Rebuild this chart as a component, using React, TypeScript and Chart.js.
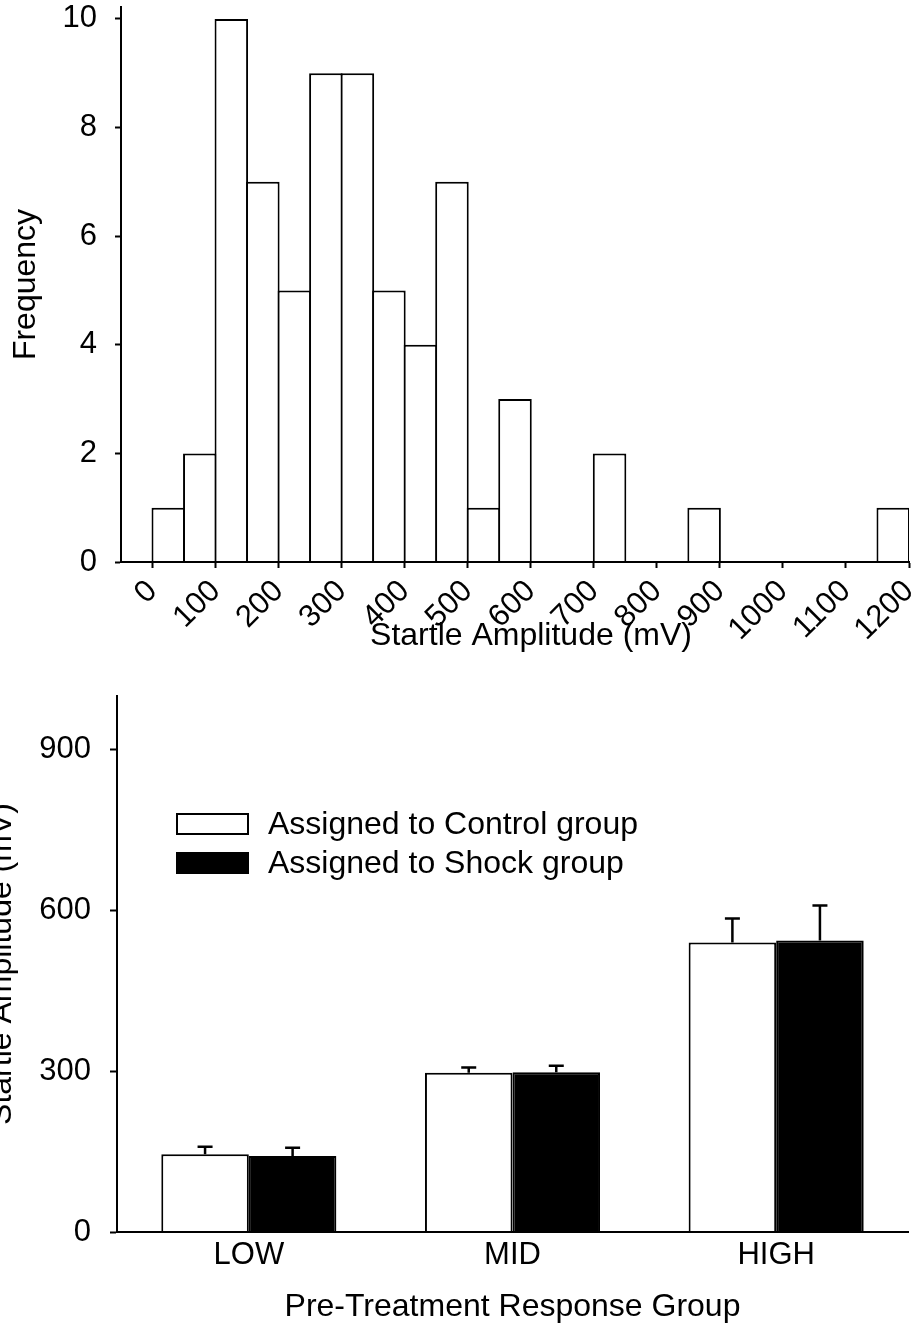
import React, { useEffect, useRef } from 'react';
import { Chart, registerables } from 'chart.js';

Chart.register(...registerables);

const FONT = "'Liberation Sans', Arial, Helvetica, sans-serif";

// ---- Histogram (top) ----
const binStarts = [0, 50, 100, 150, 200, 250, 300, 350, 400, 450, 500, 550, 600, 650, 700, 750, 800, 850, 900, 950, 1000, 1050, 1100, 1150];
const binCounts = [1, 2, 10, 7, 5, 9, 9, 5, 4, 7, 1, 3, 0, 0, 2, 0, 0, 1, 0, 0, 0, 0, 0, 1];
const binWidth = 50;
const histXTicks = [0, 100, 200, 300, 400, 500, 600, 700, 800, 900, 1000, 1100, 1200];
const histYTicks = [0, 2, 4, 6, 8, 10];
const histXTitle = 'Startle Amplitude (mV)';
const histYTitle = 'Frequency';

// ---- Grouped bars (bottom) ----
const groupLabels = ['LOW', 'MID', 'HIGH'];
const controlMeans = [145, 297, 540];
const controlErrors = [14, 10, 45];
const shockMeans = [142, 298, 544];
const shockErrors = [15, 12, 65];
const barYTicks = [0, 300, 600, 900];
const seriesNames = ['Assigned to Control group', 'Assigned to Shock group'];
const barXTitle = 'Pre-Treatment Response Group';
const barYTitle = 'Startle Amplitude (mV)';

const errorBarPlugin = {
  id: 'errorBars',
  afterDatasetsDraw(chart: any, _args: any, opts: any) {
    const { ctx } = chart;
    const yScale = chart.scales.y;
    ctx.save();
    ctx.strokeStyle = '#000';
    ctx.lineWidth = opts.lineWidth;
    chart.data.datasets.forEach((ds: any, i: number) => {
      const meta = chart.getDatasetMeta(i);
      const errs = opts.errors[i];
      meta.data.forEach((bar: any, j: number) => {
        const v = ds.data[j];
        const top = yScale.getPixelForValue(v + errs[j]);
        const x = bar.x;
        ctx.beginPath();
        ctx.moveTo(x, bar.y);
        ctx.lineTo(x, top);
        ctx.moveTo(x - opts.capHalf, top);
        ctx.lineTo(x + opts.capHalf, top);
        ctx.stroke();
      });
    });
    ctx.restore();
  },
};

const insetLegendPlugin = {
  id: 'insetLegend',
  afterDraw(chart: any, _args: any, opts: any) {
    const { ctx, chartArea } = chart;
    ctx.save();
    ctx.font = `${opts.fontSize}px ${FONT}`;
    ctx.textBaseline = 'middle';
    ctx.textAlign = 'left';
    chart.data.datasets.forEach((ds: any, i: number) => {
      const x = chartArea.left + opts.dx;
      const y = chartArea.top + opts.dy + i * opts.rowGap;
      ctx.fillStyle = ds.backgroundColor;
      ctx.fillRect(x, y, opts.boxW, opts.boxH);
      ctx.lineWidth = 2;
      ctx.strokeStyle = ds.borderColor;
      ctx.strokeRect(x + 1, y + 1, opts.boxW - 2, opts.boxH - 2);
      ctx.fillStyle = '#000';
      ctx.fillText(ds.label, x + opts.boxW + opts.gap, y + opts.boxH / 2 + 1);
    });
    ctx.restore();
  },
};

const axisCommon = (tickLength: number) => ({
  grid: {
    display: true,
    offset: false,
    drawOnChartArea: false,
    drawTicks: true,
    tickLength,
    tickWidth: 2,
    tickColor: '#000',
  },
  border: { display: true, color: '#000', width: 2, z: 1 },
});

const plainLabel = (v: any) => String(v);
const fixedTicks = (values: number[]) => (s: any) => {
  s.ticks = values.map((value) => ({ value }));
};

export default function App() {
  const topRef = useRef<HTMLCanvasElement>(null);
  const botRef = useRef<HTMLCanvasElement>(null);

  useEffect(() => {
    const tickFont = { family: FONT, size: 31 };
    const titleFont = { family: FONT, size: 32 };

    const hist = new Chart(topRef.current as HTMLCanvasElement, {
      type: 'bar',
      data: {
        datasets: [
          {
            label: 'Frequency',
            data: binStarts.map((s, i) => ({ x: s + binWidth / 2, y: binCounts[i] })),
            backgroundColor: '#fff',
            borderColor: '#000',
            borderWidth: 2,
            borderSkipped: 'bottom',
            barPercentage: 1.0635,
            categoryPercentage: 1,
            inflateAmount: 0,
          } as any,
        ],
      },
      options: {
        animation: false,
        responsive: true,
        maintainAspectRatio: false,
        layout: { padding: { left: 0, top: 7, right: 14, bottom: 0 } },
        plugins: { legend: { display: false }, tooltip: { enabled: false } },
        scales: {
          x: {
            type: 'linear',
            bounds: 'data',
            min: -50,
            max: 1200,
            offset: false,
            ...axisCommon(6),
            afterBuildTicks: fixedTicks(histXTicks),
            ticks: {
              autoSkip: false,
              minRotation: 45,
              maxRotation: 45,
              padding: 5,
              color: '#000',
              font: tickFont,
              callback: plainLabel,
            },
            title: {
              display: true,
              text: '\u2003' + histXTitle,
              color: '#000',
              font: titleFont,
              padding: { top: 0, bottom: 1 },
            },
            afterFit: (s: any) => {
              s.height = 94;
              s.paddingLeft = 0;
              s.paddingRight = 0;
            },
          } as any,
          y: {
            bounds: 'data',
            min: 0,
            max: 10.22,
            ...axisCommon(6),
            afterBuildTicks: fixedTicks(histYTicks),
            ticks: { padding: 18, color: '#000', font: tickFont, callback: plainLabel },
            title: { display: true, text: histYTitle, color: '#000', font: titleFont, padding: { top: 7, bottom: 0 } },
            afterFit: (s: any) => {
              s.width = 121;
              s.paddingTop = 0;
              s.paddingBottom = 0;
            },
          } as any,
        },
      },
    });

    const bars = new Chart(botRef.current as HTMLCanvasElement, {
      type: 'bar',
      data: {
        labels: groupLabels,
        datasets: [
          {
            label: seriesNames[0],
            data: controlMeans,
            backgroundColor: '#fff',
            borderColor: '#000',
            borderWidth: 2,
            borderSkipped: 'bottom',
            barPercentage: 1,
            categoryPercentage: 0.664,
            inflateAmount: 0,
          } as any,
          {
            label: seriesNames[1],
            data: shockMeans,
            backgroundColor: '#000',
            borderColor: '#000',
            borderWidth: 2,
            borderSkipped: 'bottom',
            barPercentage: 1,
            categoryPercentage: 0.664,
            inflateAmount: 0,
          } as any,
        ],
      },
      plugins: [errorBarPlugin, insetLegendPlugin],
      options: {
        animation: false,
        responsive: true,
        maintainAspectRatio: false,
        layout: { padding: { left: 0, top: 44, right: 15, bottom: 0 } },
        plugins: {
          legend: { display: false },
          tooltip: { enabled: false },
          errorBars: { errors: [controlErrors, shockErrors], lineWidth: 2.5, capHalf: 7.5 },
          insetLegend: { dx: 59, dy: 117, rowGap: 39, boxW: 73, boxH: 22, gap: 19, fontSize: 32 },
        } as any,
        scales: {
          x: {
            grid: { display: false, drawTicks: false },
            border: { display: true, color: '#000', width: 2, z: 1 },
            ticks: { padding: 5, color: '#000', font: tickFont },
            title: { display: true, text: barXTitle, color: '#000', font: titleFont, padding: { top: 0, bottom: 6 } },
            afterFit: (s: any) => {
              s.height = 100;
              s.paddingLeft = 0;
              s.paddingRight = 0;
            },
          } as any,
          y: {
            bounds: 'data',
            min: 0,
            max: 1000,
            ...axisCommon(7),
            afterBuildTicks: fixedTicks(barYTicks),
            ticks: { padding: 19, color: '#000', font: tickFont, callback: plainLabel },
            title: { display: true, text: barYTitle, color: '#000', font: titleFont, padding: { top: 3, bottom: 0 } },
            afterFit: (s: any) => {
              s.width = 137;
              s.paddingTop = 0;
              s.paddingBottom = 0;
            },
          } as any,
        },
      },
    });

    return () => {
      hist.destroy();
      bars.destroy();
    };
  }, []);

  return (
    <div
      style={{
        position: 'absolute',
        left: 0,
        top: 0,
        width: 923,
        height: 1332,
        overflow: 'hidden',
        background: '#fff',
      }}
    >
      <div style={{ position: 'absolute', left: 0, top: 0, width: 923, height: 656 }}>
        <canvas ref={topRef} />
      </div>
      <div style={{ position: 'absolute', left: -20, top: 652, width: 943, height: 680 }}>
        <canvas ref={botRef} />
      </div>
    </div>
  );
}
